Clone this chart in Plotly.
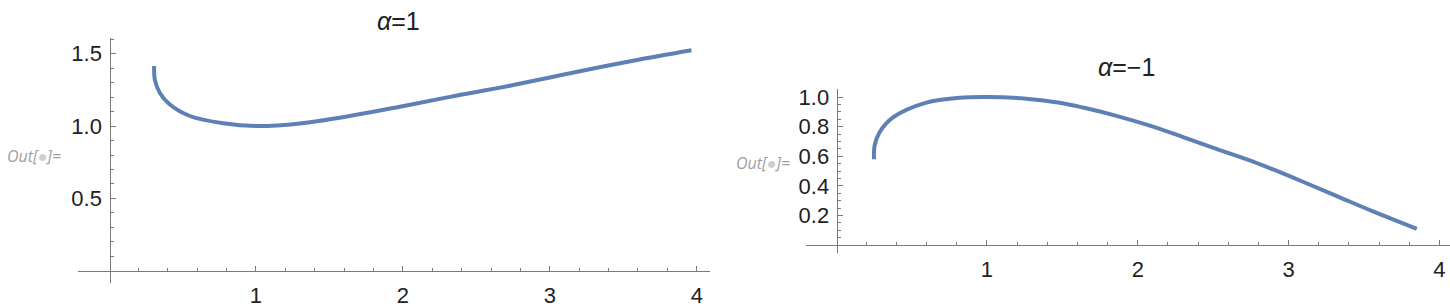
import plotly.graph_objects as go

# ---- data ----
x_pos = [0.308, 0.313, 0.347, 0.415, 0.551, 0.778, 1.005, 1.30, 1.639, 1.98, 2.32, 2.728, 3.113, 3.567, 3.964]
y_pos = [1.414, 1.318, 1.228, 1.148, 1.069, 1.019, 1.000, 1.018, 1.069, 1.133, 1.201, 1.278, 1.359, 1.450, 1.522]

x_neg = [0.251, 0.255, 0.288, 0.377, 0.598, 0.819, 0.996, 1.261, 1.482, 1.637, 1.858, 2.079, 2.300, 2.521,
         2.742, 2.897, 3.118, 3.339, 3.560, 3.850]
y_neg = [0.580, 0.673, 0.762, 0.862, 0.962, 0.995, 1.000, 0.989, 0.962, 0.929, 0.873, 0.807, 0.730, 0.650,
         0.572, 0.511, 0.418, 0.323, 0.228, 0.110]

titles = ["<i>α</i>=1", "<i>α</i>=\u22121"]

x_ticks = [1, 2, 3, 4]
x_minor = [0.2, 0.4, 0.6, 0.8, 1.2, 1.4, 1.6, 1.8, 2.2, 2.4, 2.6, 2.8, 3.2, 3.4, 3.6, 3.8, 4.2]
y1_ticks = [0.5, 1.0, 1.5]
y1_labels = ["0.5", "1.0", "1.5"]
y1_minor = [0.1, 0.2, 0.3, 0.4, 0.6, 0.7, 0.8, 0.9, 1.1, 1.2, 1.3, 1.4, 1.6]
y2_ticks = [0.2, 0.4, 0.6, 0.8, 1.0]
y2_labels = ["0.2", "0.4", "0.6", "0.8", "1.0"]
y2_minor = [0.05, 0.1, 0.15, 0.25, 0.3, 0.35, 0.45, 0.5, 0.55, 0.65, 0.7, 0.75, 0.85, 0.9, 0.95, 1.05]

W, H = 1450, 308
LINE = "#5E81B5"
AX = "#7a7a7a"
FONT = "Liberation Sans, Arial, sans-serif"


def px(v):
    return v / W


def py(v):
    return (H - v) / H


fig = go.Figure()
fig.add_trace(go.Scatter(x=x_pos, y=y_pos, mode="lines", xaxis="x", yaxis="y",
                         line=dict(color=LINE, width=4, shape="spline", smoothing=1.0), showlegend=False))
fig.add_trace(go.Scatter(x=x_neg, y=y_neg, mode="lines", xaxis="x2", yaxis="y2",
                         line=dict(color=LINE, width=4, shape="spline", smoothing=1.0), showlegend=False))


def xax(dom, rng, pos):
    return dict(domain=dom, range=rng, anchor="free", position=pos, showline=True, linecolor=AX,
                linewidth=1.3, showgrid=False, zeroline=False, ticks="inside", ticklen=5,
                tickcolor=AX, tickwidth=1.2, tickmode="array", tickvals=x_ticks,
                ticktext=[str(t) for t in x_ticks], ticklabelstandoff=4,
                tickfont=dict(family=FONT, size=22, color="#222"),
                minor=dict(ticks="inside", ticklen=3, tickcolor=AX, tickwidth=1,
                           tickmode="array", tickvals=x_minor))


def yax(dom, rng, pos, tv, tt, mv):
    return dict(domain=dom, range=rng, anchor="free", position=pos, showline=True, linecolor=AX,
                linewidth=1.3, showgrid=False, zeroline=False, ticks="inside", ticklen=5,
                tickcolor=AX, tickwidth=1.2, tickmode="array", tickvals=tv, ticktext=tt,
                ticklabelstandoff=3,
                tickfont=dict(family=FONT, size=22, color="#222"),
                minor=dict(ticks="inside", ticklen=3, tickcolor=AX, tickwidth=1,
                           tickmode="array", tickvals=mv))


OUT = "<i>Out[<span style='color:#cfcfcf'>●</span>]=</i>"

fig.update_layout(
    width=W, height=H, margin=dict(l=0, r=0, t=0, b=0),
    paper_bgcolor="white", plot_bgcolor="white",
    xaxis=xax([px(78), px(710)], [-0.21, 4.09], py(270.5)),
    yaxis=yax([py(283), py(34)], [-0.085, 1.61], px(109.5), y1_ticks, y1_labels, y1_minor),
    xaxis2=xax([px(806), px(1450)], [-0.2, 4.07], py(244.3)),
    yaxis2=yax([py(252.3), py(86)], [-0.053, 1.055], px(836.7), y2_ticks, y2_labels, y2_minor),
    annotations=[
        dict(text=titles[0], x=px(398), y=py(17.5), xref="paper", yref="paper", showarrow=False,
             xanchor="center", yanchor="middle", font=dict(family=FONT, size=25, color="#222")),
        dict(text=titles[1], x=px(1126), y=py(63.5), xref="paper", yref="paper", showarrow=False,
             xanchor="center", yanchor="middle", font=dict(family=FONT, size=25, color="#222")),
        dict(text=OUT, x=px(63), y=py(153.5),
             xref="paper", yref="paper", showarrow=False, xanchor="right", yanchor="middle",
             font=dict(family="Open Sans, sans-serif", size=16, color="#a0a0a0")),
        dict(text=OUT, x=px(792), y=py(161.5),
             xref="paper", yref="paper", showarrow=False, xanchor="right", yanchor="middle",
             font=dict(family="Open Sans, sans-serif", size=16, color="#a0a0a0")),
    ],
)

fig.write_html("out.html", config={"displayModeBar": False},
               post_script="document.body.style.margin='0';")
